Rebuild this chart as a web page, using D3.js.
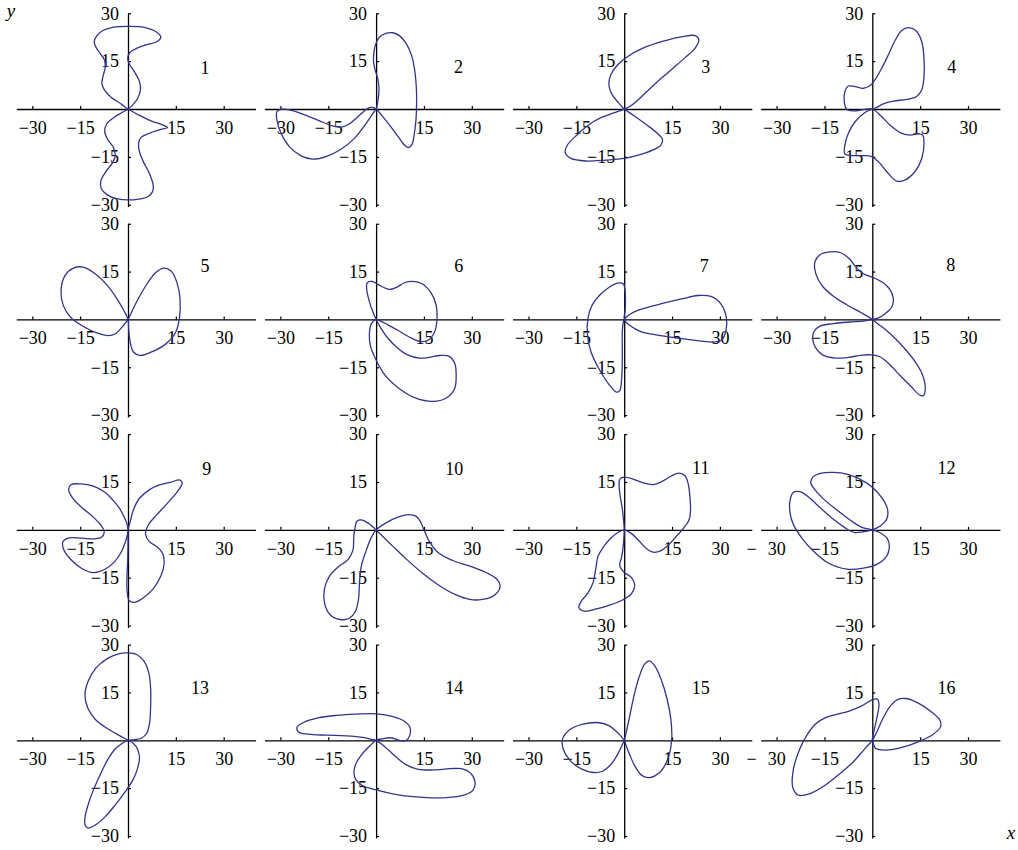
<!DOCTYPE html>
<html>
<head>
<meta charset="utf-8">
<script src="https://cdn.jsdelivr.net/npm/d3@7"></script>
<style>
  html, body { margin: 0; padding: 0; background: #ffffff; }
  svg { display: block; }
  text { font-family: "Liberation Serif", serif; }
</style>
</head>
<body>
<svg id="chart" width="1018" height="850"></svg>
<script>
// Sixteen closed curves through the origin, one per panel, as (x, y) points.
const curve1 = [[0,0],[-2.2,1.6],[-5.3,3.7],[-7.4,6.0],[-8.2,8.0],[-7.7,10.7],[-7.1,13.3],[-7.4,15.4],[-8.8,17.5],[-10.0,19.3],[-10.6,21.1],[-9.8,22.9],[-7.9,24.6],[-4.8,25.6],[0,25.9],[5.1,25.6],[8.8,24.2],[10.3,22.5],[9.0,21.1],[5.6,20.1],[2.7,19.0],[0.6,17.7],[-0.1,15.9],[0.4,14.1],[2.0,11.7],[3.6,8.6],[3.9,6.0],[3.0,3.3],[1.5,1.3],
  [0,0],[-2.4,-1.4],[-4.3,-2.6],[-6.7,-4.7],[-7.3,-7.1],[-6.4,-9.5],[-4.6,-12.0],[-4.0,-14.4],[-4.8,-16.8],[-6.9,-19.6],[-8.5,-22.5],[-8.4,-24.9],[-6.4,-27.0],[-3.2,-28.2],[0,-28.5],[3.0,-28.3],[6.2,-27.5],[7.7,-25.9],[7.9,-23.8],[6.7,-20.2],[4.8,-16.5],[3.6,-13.4],[3.3,-10.8],[4.1,-8.9],[6.7,-7.6],[10.3,-6.4],[12.4,-5.8],[10.9,-5.0],[7.2,-3.7],[3.6,-2.0]];
const curve2 = [[0,0],[0.6,2.8],[0.9,6.5],[0.5,9.6],[-0.3,12.2],[-0.8,14.8],[-0.7,17.5],[-0.2,20.1],[1.0,22.5],[3.1,23.7],[5.2,23.9],[7.3,23.0],[9.4,20.6],[11.1,16.9],[12.1,12.2],[12.6,7.0],[12.7,1.8],[12.5,-3.4],[12.0,-7.6],[11.3,-11.0],[10.2,-12.1],[8.9,-11.3],[6.8,-8.5],[4.4,-5.3],[2.1,-2.4],
  [0,0],[-1.0,0.5],[-2.1,0.4],[-3.3,-0.3],[-5.7,-2.4],[-8.4,-4.7],[-11.0,-5.7],[-13.6,-5.3],[-17.8,-3.7],[-23.0,-1.6],[-27.2,-0.3],[-29.8,-0.1],[-31.1,-0.8],[-31.1,-3.4],[-29.8,-7.6],[-27.2,-11.8],[-23.5,-14.7],[-19.9,-15.7],[-15.7,-14.9],[-11.0,-12.6],[-6.8,-9.2],[-3.1,-4.5],[-1.0,-1.4]];
const curve3 = [[0,0],[-2.1,2.3],[-4.0,4.9],[-4.8,7.5],[-4.2,10.7],[-2.1,13.8],[1.0,16.4],[5.7,19.0],[12.0,21.2],[18.3,22.7],[22.3,23.0],[23.4,21.6],[22.3,19.2],[19.1,16.1],[15.2,12.7],[11.0,9.1],[6.8,5.2],[3.7,2.3],[1.6,0.7],
  [0,0],[-1.4,-0.6],[-3.7,-1.4],[-7.3,-2.7],[-11.2,-5.0],[-14.9,-8.2],[-17.8,-11.3],[-18.5,-13.7],[-16.7,-15.5],[-12.0,-16.3],[-5.7,-16.0],[0,-15.5],[4.7,-14.4],[8.9,-12.9],[11.5,-11.3],[12.0,-9.5],[10.4,-7.6],[6.8,-4.8],[3.1,-2.1]];
const curve4 = [[0,0],[-2.8,-0.2],[-6.0,-0.6],[-8.0,-0.1],[-8.8,2.3],[-8.6,5.4],[-7.5,7.2],[-5.4,7.0],[-2.8,6.5],[-0.9,7.2],[0.8,9.1],[2.9,12.7],[5.0,16.9],[7.1,21.4],[9.2,24.6],[11.3,25.5],[13.7,24.5],[15.5,21.1],[16.2,15.9],[16.2,10.1],[15.5,6.0],[13.9,3.9],[10.8,3.0],[6.6,2.5],[3.4,1.6],[1.4,0.5],
  [0,0],[-2.3,-1.1],[-5.4,-4.0],[-7.5,-7.6],[-8.6,-11.3],[-8.6,-14.1],[-6.5,-14.6],[-2.8,-14.6],[-0.2,-14.9],[1.9,-16.5],[4.5,-19.6],[7.6,-22.6],[10.2,-22.3],[13.4,-19.6],[15.5,-15.5],[16.2,-10.8],[15.8,-8.2],[14.4,-7.8],[11.8,-8.2],[8.7,-7.4],[5.5,-5.0],[2.4,-1.9]];
const curve5 = [[0,0],[-1.3,2.8],[-3.6,6.7],[-6.7,10.9],[-10.3,14.3],[-14.0,16.4],[-17.1,16.1],[-19.7,13.8],[-21.0,9.1],[-20.3,4.4],[-18.0,0.7],[-14.0,-2.2],[-9.8,-4.2],[-6.2,-5.1],[-3.8,-4.4],[-1.7,-2.2],
  [0,0],[1.5,3.1],[3.6,7.2],[6.2,11.5],[8.8,14.8],[11.3,16.1],[13.5,15.2],[15.3,11.7],[16.3,6.5],[16.1,0.2],[14.7,-4.5],[11.6,-7.9],[7.4,-10.2],[3.8,-11.3],[1.7,-10.2],[0.6,-6.6],[0.2,-2.9]];
const curve6 = [[0,0],[-1.0,2.3],[-2.1,5.6],[-2.9,9.1],[-2.8,11.5],[-1.3,11.9],[1.6,10.4],[4.2,9.4],[6.5,10.1],[8.9,11.5],[11.5,11.9],[14.4,11.2],[17.2,8.4],[18.8,4.6],[19.1,0.2],[18.3,-4.0],[16.2,-6.6],[13.6,-6.9],[10.4,-5.5],[6.8,-3.4],[3.7,-1.7],[1.6,-0.6],
  [0,0],[-1.5,-1.4],[-2.1,-4.5],[-1.8,-8.2],[-0.2,-12.3],[2.9,-17.6],[7.3,-21.7],[12.5,-24.7],[17.8,-25.7],[21.9,-24.7],[24.6,-21.7],[25.1,-17.6],[24.6,-13.6],[22.8,-11.5],[19.9,-11.3],[16.7,-11.9],[13.6,-12.1],[9.9,-11.1],[6.8,-9.0],[3.7,-5.9],[1.3,-2.4]];
const curve7 = [[0,0],[0.3,2.8],[0.4,6.5],[0.2,9.6],[-0.3,11.2],[-2.1,11.4],[-4.7,10.1],[-7.8,7.5],[-10.1,4.4],[-11.4,0.2],[-11.5,-5.0],[-10.4,-10.2],[-8.0,-15.3],[-4.9,-20.2],[-2.4,-22.8],[-1.4,-22.3],[-0.8,-18.6],[-0.6,-13.4],[-0.6,-8.2],[-0.6,-4.0],[-0.4,-1.7],
  [0,0],[2.1,1.8],[5.7,3.3],[12.0,5.0],[18.3,6.5],[23.0,7.5],[27.2,7.2],[30.3,4.9],[32.0,0.7],[31.9,-3.4],[30.6,-6.4],[28.2,-7.1],[23.5,-6.7],[17.2,-5.9],[11.0,-5.0],[5.2,-3.8],[1.8,-1.9]];
const curve8 = [[0,0],[-3.3,2.0],[-8.0,4.6],[-12.2,7.3],[-15.6,10.4],[-17.7,14.3],[-18.0,18.0],[-16.4,20.3],[-13.3,21.2],[-9.9,20.9],[-7.2,19.0],[-5.1,16.4],[-2.8,14.3],[0.3,13.1],[3.4,11.5],[5.5,9.4],[6.6,6.5],[6.1,3.9],[4.0,1.8],[1.9,0.5],
  [0,0],[-2.8,-0.5],[-7.0,-0.8],[-12.2,-1.3],[-16.4,-2.1],[-18.3,-3.8],[-18.7,-5.9],[-17.9,-8.7],[-15.6,-11.1],[-11.7,-12.1],[-7.5,-11.9],[-3.3,-11.2],[-0.2,-11.1],[2.4,-11.7],[5.3,-14.0],[8.7,-17.6],[12.3,-21.2],[14.7,-23.6],[16.0,-23.9],[16.6,-21.2],[15.6,-17.0],[13.4,-13.2],[10.2,-9.2],[7.1,-5.9],[4.0,-3.1],[1.9,-1.5]];
const curve9 = [[0,0],[-0.4,2.1],[-1.3,4.2],[-2.7,6.8],[-4.8,9.4],[-7.2,11.8],[-10.9,13.7],[-14.8,14.4],[-17.8,14.2],[-18.6,12.7],[-17.3,9.9],[-14.2,6.8],[-10.9,4.0],[-8.6,1.6],[-7.5,-0.3],[-8.0,-2.1],[-10.3,-2.8],[-14.5,-2.6],[-18.4,-2.5],[-20.4,-3.7],[-20.1,-6.3],[-18.0,-9.2],[-14.5,-12.1],[-10.9,-13.4],[-7.5,-12.5],[-4.4,-10.2],[-2.2,-7.1],[-0.8,-3.7],[-0.2,-1.6],
  [0,0],[0.7,2.6],[1.7,6.3],[3.6,9.9],[6.9,12.7],[9.8,14.1],[13.2,14.9],[16.3,15.6],[17.0,14.6],[15.5,12.0],[12.4,8.4],[9.0,4.7],[6.4,1.6],[5.5,-1.3],[6.7,-3.7],[9.2,-5.4],[10.9,-7.5],[11.3,-10.7],[10.3,-14.5],[7.9,-18.5],[4.8,-21.3],[2.2,-22.7],[0.4,-22.2],[-0.3,-19.0],[-0.3,-14.3],[-0.1,-9.6],[0,-4.9],[0,-1.8]];
const curve10 = [[0,0],[-2.6,2.2],[-4.7,3.1],[-6.0,2.7],[-6.6,0.8],[-7.0,-2.3],[-7.3,-6.5],[-8.9,-9.4],[-12.0,-11.7],[-14.6,-14.5],[-16.2,-18.5],[-16.1,-23.2],[-14.4,-26.6],[-11.3,-28.1],[-8.4,-27.7],[-6.5,-25.6],[-5.5,-21.6],[-5.2,-16.4],[-4.6,-11.2],[-3.1,-6.5],[-1.6,-2.6],
  [0,0],[3.1,2.2],[6.8,4.0],[10.2,4.8],[12.5,4.3],[13.9,2.6],[14.9,0.3],[16.5,-3.3],[19.3,-7.0],[24.0,-9.6],[30.3,-11.7],[35.3,-13.8],[37.8,-15.4],[38.9,-17.5],[38.1,-19.5],[36.1,-21.1],[32.9,-21.9],[29.3,-21.8],[25.1,-20.4],[19.9,-17.5],[14.6,-13.6],[9.4,-9.1],[5.2,-5.1],[2.1,-2.1]];
const curve11 = [[0,0],[-0.2,3.0],[-0.6,6.7],[-1.3,10.9],[-1.6,14.0],[-1.3,16.0],[0,16.5],[2.8,15.9],[6.0,14.7],[9.1,14.2],[11.9,15.2],[14.6,16.8],[17.2,17.8],[19.1,16.9],[20.1,14.3],[20.6,10.3],[20.8,6.2],[20.3,3.0],[18.5,0.4],[16.2,-2.2],[13.8,-4.8],[11.4,-6.6],[9.1,-7.0],[7.0,-5.9],[4.4,-3.2],[2.2,-1.1],
  [0,0],[-1.6,-0.6],[-4.3,-2.7],[-6.6,-5.5],[-8.2,-8.3],[-8.9,-12.1],[-9.7,-16.3],[-11.3,-19.7],[-13.4,-22.3],[-14.2,-24.3],[-12.6,-25.5],[-8.7,-24.8],[-4.5,-23.6],[-0.5,-22.0],[2.3,-20.0],[3.3,-17.3],[2.3,-15.0],[-0.1,-13.2],[-1.4,-11.1],[-0.8,-8.5],[-0.3,-5.1],[-0.1,-2.2]];
const curve12 = [[0,0],[-3.3,0.8],[-7.0,3.1],[-11.2,6.3],[-15.4,9.8],[-18.3,13.0],[-19.3,14.8],[-18.5,16.7],[-15.9,17.8],[-12.2,18.0],[-8.0,17.5],[-3.9,15.9],[0.1,13.3],[3.2,9.8],[4.8,6.3],[4.5,3.3],[2.6,1.3],
  [0,0],[-3.0,-0.6],[-5.7,-0.8],[-8.6,0.7],[-12.2,3.3],[-16.4,7.0],[-20.1,10.4],[-22.7,12.0],[-24.8,11.7],[-25.8,9.1],[-25.8,5.4],[-24.8,1.8],[-22.2,-2.4],[-18.5,-6.6],[-13.8,-10.4],[-8.0,-12.3],[-2.8,-12.0],[1.4,-10.8],[4.2,-8.7],[5.3,-5.9],[4.8,-2.9],[2.6,-1.0]];
const curve13 = [[0,0],[-2.5,1.4],[-6.5,3.7],[-10.3,6.6],[-12.6,10.1],[-13.5,14.1],[-12.5,18.5],[-10.0,22.7],[-6.5,25.6],[-3.0,27.1],[0,27.4],[2.7,26.9],[5.0,24.8],[6.5,21.2],[7.1,16.2],[7.1,10.8],[6.8,5.7],[5.9,2.3],[4.3,0.7],[2.2,0.2],
  [0,0],[-2.0,-1.1],[-4.1,-2.8],[-6.5,-6.3],[-8.8,-11.0],[-10.9,-15.7],[-12.4,-19.9],[-13.4,-23.7],[-13.5,-26.4],[-12.6,-27.5],[-10.3,-26.6],[-7.2,-24.0],[-4.1,-20.4],[-0.9,-16.2],[1.5,-12.5],[2.9,-9.1],[3.6,-5.5],[3.0,-2.8],[1.7,-1.0]];
const curve14 = [[0,0],[2.2,0.5],[4.3,0.8],[6.2,0.4],[7.9,-0.2],[9.5,0],[10.6,1.7],[10.6,4.1],[9.0,5.9],[5.3,7.4],[0.1,8.3],[-6.2,8.2],[-12.4,7.8],[-18.2,7.0],[-22.9,5.5],[-24.8,4.1],[-24.3,2.6],[-21.3,1.9],[-15.6,1.6],[-9.3,1.4],[-4.1,0.9],[-1.5,0.3],
  [0,0],[2.7,-2.0],[5.9,-4.9],[9.5,-7.7],[13.2,-9.1],[17.9,-9.3],[23.1,-8.9],[26.8,-8.9],[29.6,-10.3],[31.0,-13.0],[30.4,-15.6],[27.5,-17.2],[22.0,-18.0],[14.7,-17.9],[7.4,-17.2],[0.9,-15.8],[-4.6,-14.0],[-6.7,-11.6],[-6.6,-8.0],[-4.6,-4.6],[-2.0,-1.8]];
const curve15 = [[0,0],[0.9,3.7],[1.9,8.4],[3.1,14.1],[4.7,19.9],[6.3,23.7],[7.8,24.9],[9.5,23.5],[11.5,19.3],[13.4,13.1],[14.6,6.8],[14.9,0.5],[13.9,-5.2],[11.5,-9.7],[8.0,-11.7],[5.5,-11.0],[3.3,-8.0],[1.6,-4.2],[0.5,-1.4],
  [0,0],[-2.1,2.4],[-4.7,4.5],[-7.8,5.5],[-12.9,5.1],[-17.0,3.4],[-19.3,0.5],[-19.1,-2.8],[-17.0,-6.3],[-13.6,-8.9],[-9.7,-10.1],[-6.8,-9.7],[-4.2,-7.6],[-2.1,-4.5],[-0.7,-1.6]];
const curve16 = [[0,0],[0.7,3.7],[1.6,7.8],[2.1,11.2],[1.6,12.9],[-0.2,12.6],[-3.3,10.8],[-7.5,9.1],[-11.7,8.0],[-14.8,7.0],[-17.7,5.2],[-20.4,1.8],[-22.9,-3.1],[-24.8,-9.4],[-24.9,-14.9],[-23.2,-17.2],[-19.5,-16.7],[-14.8,-14.1],[-10.1,-10.4],[-6.0,-6.8],[-2.3,-2.6],
  [0,0],[1.4,2.6],[3.4,7.0],[5.7,10.8],[8.2,12.9],[10.6,13.1],[14.7,11.5],[18.9,8.6],[21.2,6.3],[21.4,4.2],[19.1,1.9],[14.4,-0.5],[8.7,-2.4],[4.0,-3.1],[1.1,-2.6],[0.3,-1.0]];

const curves = [curve1, curve2, curve3, curve4, curve5, curve6, curve7, curve8,
                curve9, curve10, curve11, curve12, curve13, curve14, curve15, curve16];

// Panel numbers and where each one sits, in data units.
const panelNames = ["1","2","3","4","5","6","7","8","9","10","11","12","13","14","15","16"];
const nameX = [24.1, 25.8, 25.6, 24.9, 24.1, 25.9, 25.1, 24.6, 24.7, 24.5, 24.0, 23.3, 22.6, 24.5, 24.0, 23.3];
const nameY = [12.9, 13.2, 13.2, 13.2, 16.9, 16.9, 16.9, 17.1, 19.1, 19.1, 19.3, 19.3, 16.4, 16.4, 16.4, 16.4];

// Axis ranges and tick values shared by every panel.
const xExtent = [-35, 40];
const yExtent = [-30.6, 30];
const tickValues = [-30, -15, 15, 30];
// Panels whose "−30" label has its minus sign set apart.
const splitMinusPanels = [12, 16];

// Layout
const unit = 3.19;            // pixels per data unit, equal on both axes
const firstOrigin = [128, 109];
const colStep = 248.1, rowStep = 210.43;
const curveColor = "#33338f";
const fontFamily = "Liberation Serif, serif";

const svg = d3.select("#chart");

const x = d3.scaleLinear().domain(xExtent).range([xExtent[0] * unit, xExtent[1] * unit]);
const y = d3.scaleLinear().domain(yExtent).range([-yExtent[0] * unit, -yExtent[1] * unit]);

const line = d3.line()
  .x(d => x(d[0]))
  .y(d => y(d[1]))
  .curve(d3.curveCatmullRomClosed.alpha(0.5));

curves.forEach((pts, i) => {
  const col = i % 4, row = Math.floor(i / 4);
  const g = svg.append("g")
    .attr("transform", `translate(${firstOrigin[0] + col * colStep},${firstOrigin[1] + row * rowStep})`);

  // x axis: ticks point up, labels below
  const gx = g.append("g")
    .call(d3.axisBottom(x).tickValues(tickValues).tickSizeInner(-3).tickSizeOuter(0).tickPadding(12));
  // y axis: ticks point right, labels to the left
  const gy = g.append("g")
    .call(d3.axisLeft(y).tickValues(tickValues).tickSizeInner(-3).tickSizeOuter(0).tickPadding(9));

  [gx, gy].forEach(a => {
    a.attr("font-family", null).attr("font-size", null)
     .style("font-family", fontFamily).style("font-size", "18px");
    a.select(".domain").attr("stroke", "#000").attr("stroke-width", 1.3);
    a.selectAll(".tick line").attr("stroke", "#000").attr("stroke-width", 1.2);
    a.selectAll(".tick text").attr("fill", "#000");
  });

  if (splitMinusPanels.includes(i + 1)) {
    gx.selectAll(".tick text")
      .filter(d => d === -30)
      .text(null)
      .call(t => {
        t.append("tspan").attr("dx", -11).text("\u2212");
        t.append("tspan").attr("dx", 11).text("30");
      });
  }

  g.append("path")
    .datum(pts)
    .attr("d", line)
    .attr("fill", "none")
    .attr("stroke", curveColor)
    .attr("stroke-width", 1.3)
    .attr("stroke-linejoin", "round");

  g.append("text")
    .attr("x", x(nameX[i]))
    .attr("y", y(nameY[i]))
    .attr("text-anchor", "middle")
    .attr("dominant-baseline", "central")
    .style("font-family", fontFamily)
    .style("font-size", "18px")
    .attr("fill", "#000")
    .text(panelNames[i]);
});

// Axis names
svg.append("text")
  .attr("x", 11).attr("y", 17)
  .attr("text-anchor", "middle")
  .style("font-family", fontFamily).style("font-style", "italic").style("font-size", "19px")
  .text("y");
svg.append("text")
  .attr("x", 1011).attr("y", 839)
  .attr("text-anchor", "middle")
  .style("font-family", fontFamily).style("font-style", "italic").style("font-size", "19px")
  .text("x");
</script>
</body>
</html>
